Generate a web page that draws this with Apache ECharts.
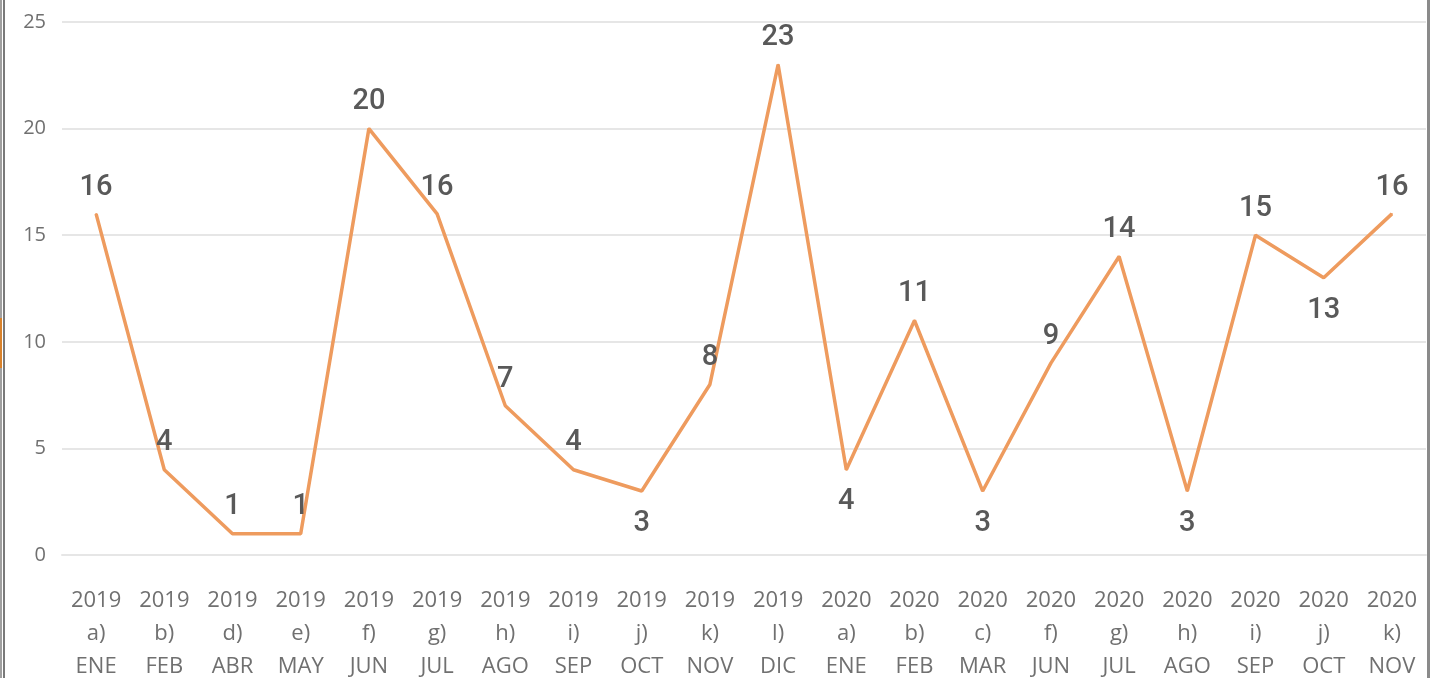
<!DOCTYPE html>
<html>
<head>
<meta charset="utf-8">
<script src="https://cdn.jsdelivr.net/npm/echarts@6/dist/echarts.min.js"></script>
<style>
  html, body { margin: 0; padding: 0; background: #fff; }
  #main { width: 1432px; height: 678px; }
</style>
</head>
<body>
<div id="main"></div>
<script>
// categorías: año, letra, mes
const years = ['2019','2019','2019','2019','2019','2019','2019','2019','2019','2019','2019',
  '2020','2020','2020','2020','2020','2020','2020','2020','2020'];
const letters = ['a)','b)','d)','e)','f)','g)','h)','i)','j)','k)','l)',
  'a)','b)','c)','f)','g)','h)','i)','j)','k)'];
const months = ['ENE','FEB','ABR','MAY','JUN','JUL','AGO','SEP','OCT','NOV','DIC',
  'ENE','FEB','MAR','JUN','JUL','AGO','SEP','OCT','NOV'];
const values = [16, 4, 1, 1, 20, 16, 7, 4, 3, 8, 23, 4, 11, 3, 9, 14, 3, 15, 13, 16];
const yTicks = [0, 5, 10, 15, 20, 25];

// etiquetas que van debajo del punto
const labelsBelow = [8, 11, 13, 16, 18];

const categories = years.map((y, i) => y + '\n' + letters[i] + '\n' + months[i]);

const chart = echarts.init(document.getElementById('main'));

const option = {
  animation: false,
  grid: { left: 62, right: 6, top: 22, bottom: 123, outerBoundsMode: 'none' },
  xAxis: {
    type: 'category',
    data: categories,
    boundaryGap: true,
    axisLine: { show: true, lineStyle: { color: '#e6e6e6', width: 2 } },
    axisTick: { show: false },
    axisLabel: {
      interval: 0,
      margin: 29,
      color: '#707070',
      fontFamily: 'Open Sans',
      fontSize: 22,
      lineHeight: 33
    }
  },
  yAxis: {
    type: 'value',
    min: yTicks[0],
    max: yTicks[yTicks.length - 1],
    interval: 5,
    axisLine: { show: false },
    axisTick: { show: false },
    splitLine: { lineStyle: { color: '#e6e6e6', width: 2 } },
    axisLabel: {
      margin: 16,
      color: '#707070',
      fontFamily: 'Open Sans',
      fontSize: 20
    }
  },
  series: [{
    type: 'line',
    data: values.map((v, i) => ({
      value: v,
      label: labelsBelow.includes(i)
        ? { position: 'bottom', distance: 17 }
        : { position: 'top', distance: 11 }
    })),
    symbol: 'circle',
    symbolSize: 2,
    showSymbol: true,
    lineStyle: { color: '#EE9B5E', width: 3.5 },
    itemStyle: { color: '#EE9B5E' },
    label: {
      show: true,
      color: '#595959',
      fontFamily: 'Roboto',
      fontWeight: 500,
      fontSize: 29
    }
  }],
  graphic: [
    { type: 'rect', shape: { x: 0, y: 0, width: 2, height: 678 }, style: { fill: '#a0a0a0' } },
    { type: 'rect', shape: { x: 3, y: 0, width: 2, height: 678 }, style: { fill: '#7a7a7a' } },
    { type: 'rect', shape: { x: 0, y: 318, width: 2, height: 50 }, style: { fill: '#D9822B' } },
    { type: 'rect', shape: { x: 1427, y: 0, width: 3, height: 678 }, style: { fill: '#8a8a8a' } }
  ]
};

chart.setOption(option);
window.addEventListener('resize', () => chart.resize());
</script>
</body>
</html>
